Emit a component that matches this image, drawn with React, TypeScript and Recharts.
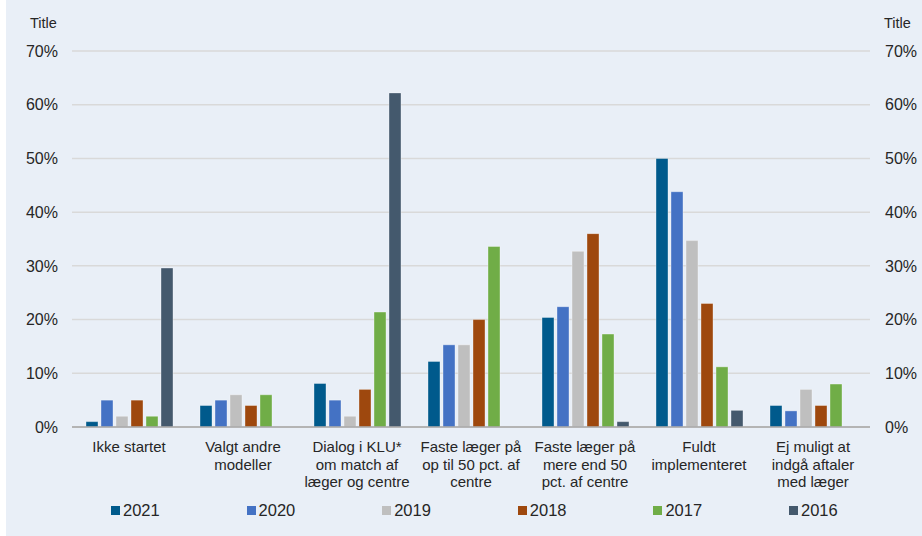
import { BarChart, Bar, XAxis, YAxis, CartesianGrid, ReferenceLine } from "recharts"

const categories = [
  "Ikke startet",
  "Valgt andre\nmodeller",
  "Dialog i KLU*\nom match af\nlæger og centre",
  "Faste læger på\nop til 50 pct. af\ncentre",
  "Faste læger på\nmere end 50\npct. af centre",
  "Fuldt\nimplementeret",
  "Ej muligt at\nindgå aftaler\nmed læger",
]

const years = ["2021", "2020", "2019", "2018", "2017", "2016"]
const colors = ["#005a8c", "#4472c4", "#bfbfbf", "#9e480e", "#70ad47", "#44596d"]

const v2021 = [1, 4, 8.1, 12.2, 20.4, 50, 4]
const v2020 = [5, 5, 5, 15.3, 22.4, 43.8, 3]
const v2019 = [2, 6, 2, 15.3, 32.7, 34.7, 7]
const v2018 = [5, 4, 7, 20, 36, 23, 4]
const v2017 = [2, 6, 21.4, 33.6, 17.3, 11.2, 8]
const v2016 = [29.6, 0, 62.2, 0, 1, 3.1, 0]

const yTicks = [0, 10, 20, 30, 40, 50, 60, 70]

const series = [v2021, v2020, v2019, v2018, v2017, v2016]
const data = categories.map((name, i) => {
  const row: Record<string, string | number> = { name }
  years.forEach((y, k) => (row[y] = series[k][i]))
  return row
})

const font = "'Liberation Sans', Arial, sans-serif"

function CategoryTick(props: any) {
  const { x, y, payload } = props
  const lines = String(payload.value).split("\n")
  return (
    <text x={x} y={y + 17} textAnchor="middle" fill="#262626" fontSize={15} fontFamily={font}>
      {lines.map((l, i) => (
        <tspan key={i} x={x} dy={i === 0 ? 0 : 17.7}>
          {l}
        </tspan>
      ))}
    </text>
  )
}

export default function App() {
  return (
    <div style={{ position: "absolute", left: 0, top: 0, width: 922, height: 536, background: "#fff", fontFamily: font }}>
      <div style={{ position: "absolute", left: 6, top: 0, width: 916, height: 536, background: "#e9eff7" }}>
        <span style={{ position: "absolute", left: 24, top: 15, fontSize: 14.5, color: "#262626" }}>Title</span>
        <span style={{ position: "absolute", left: 878, top: 15, fontSize: 14.5, color: "#262626" }}>Title</span>
        <BarChart
          width={916}
          height={536}
          data={data}
          margin={{ top: 51, right: 0, bottom: 29, left: 0 }}
          barSize={12}
          barGap={3}
        >
          <CartesianGrid yAxisId="left" vertical={false} stroke="#d9d9d9" strokeWidth={1.5} />
          <XAxis
            dataKey="name"
            height={80}
            tickLine={false}
            axisLine={false}
            interval={0}
            tick={<CategoryTick />}
          />
          <YAxis
            yAxisId="left"
            width={66}
            domain={[0, 70]}
            ticks={yTicks}
            tickFormatter={(v) => `${v}%`}
            tickLine={false}
            axisLine={false}
            tickMargin={8}
            tick={{ fill: "#262626", fontSize: 16, fontFamily: font }}
          />
          <YAxis
            yAxisId="right"
            orientation="right"
            width={52}
            domain={[0, 70]}
            ticks={yTicks}
            tickFormatter={(v) => `${v}%`}
            tickLine={false}
            axisLine={false}
            tickMargin={9}
            tick={{ fill: "#262626", fontSize: 16, fontFamily: font, textAnchor: "start" }}
          />
          {years.map((y, k) => (
            <Bar
              key={y}
              yAxisId={k === years.length - 1 ? "right" : "left"}
              dataKey={y}
              fill={colors[k]}
              stroke="rgba(255,255,255,0.35)"
              strokeWidth={1}
              isAnimationActive={false}
            />
          ))}
          <ReferenceLine yAxisId="left" y={0} stroke="#a6a6a6" strokeWidth={1.5} />
        </BarChart>
        <div style={{ position: "absolute", left: 105, top: 501, display: "flex" }}>
          {years.map((y, k) => (
            <div key={y} style={{ width: 135.6, display: "flex", alignItems: "center", fontSize: 16.5, color: "#262626" }}>
              <span style={{ width: 9, height: 9, background: colors[k], marginRight: 3, display: "inline-block" }} />
              {y}
            </div>
          ))}
        </div>
      </div>
    </div>
  )
}
